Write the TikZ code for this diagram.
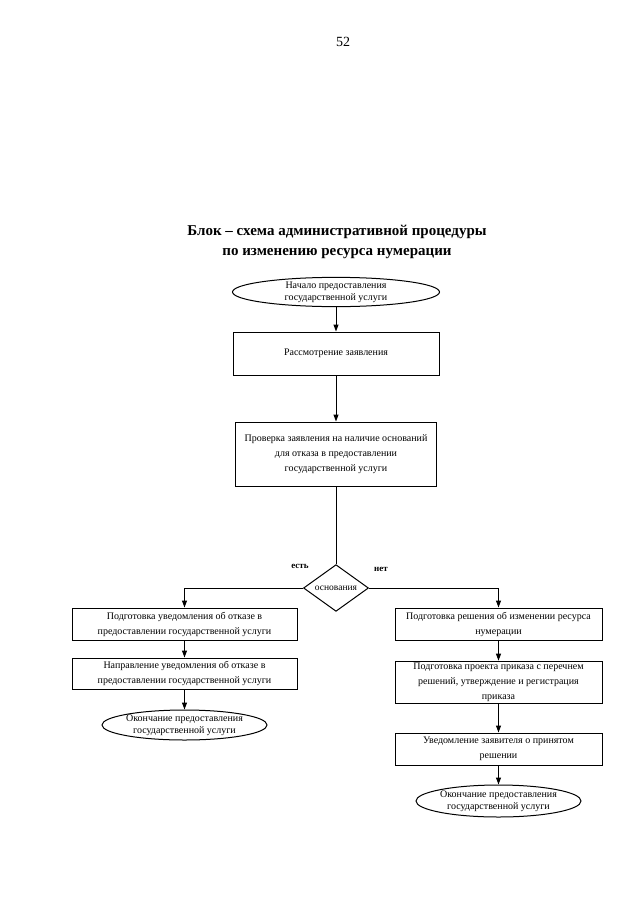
\documentclass[tikz,border=0pt]{standalone}
\usepackage{fontspec}
\setmainfont{Liberation Serif}
\usetikzlibrary{arrows.meta,shapes.geometric}
\tikzset{
  box/.style={draw, line width=1pt, rectangle, inner sep=2pt, align=center, font=\fontsize{10}{15}\selectfont},
  oval/.style={draw, line width=1pt, ellipse, inner sep=0pt, align=center, font=\fontsize{10}{12}\selectfont},
  decide/.style={draw, line width=1pt, diamond, inner sep=0pt, minimum width=65pt, minimum height=42pt, font=\fontsize{9.5}{11}\selectfont},
  lbl/.style={inner sep=0pt, font=\bfseries\fontsize{9}{10}\selectfont},
  arr/.style={line width=1pt, -{Triangle[length=7pt,width=5pt]}},
  ln/.style={line width=1pt}
}
\begin{document}
\begin{tikzpicture}[x=1pt,y=-1pt]
\useasboundingbox (0,0) rectangle (640,905);
\node[inner sep=0pt, font=\fontsize{14}{16}\selectfont] (page) at (343,42) {52};
\node[inner sep=0pt, align=center, font=\bfseries\fontsize{15}{20}\selectfont] (title) at (337,242) {Блок – схема административной процедуры\\по изменению ресурса нумерации};
\node[oval, minimum width=207pt, minimum height=26pt] (start) at (336,292) {Начало предоставления\\государственной услуги};
\node[box, minimum width=206pt, minimum height=43pt] (r1) at (336,353.5) {Рассмотрение заявления};
\node[box, minimum width=201pt, minimum height=64pt] (r2) at (336,454) {Проверка заявления на наличие оснований\\для отказа в предоставлении\\государственной услуги};
\node[decide] (d) at (336,588) {основания};
\node[lbl] (yes) at (300,566) {есть};
\node[lbl] (no) at (381,569) {нет};
\node[box, minimum width=225pt, minimum height=32pt] (l1) at (184.5,624) {Подготовка уведомления об отказе в\\предоставлении государственной услуги};
\node[box, minimum width=225pt, minimum height=31pt] (l2) at (184.5,673.5) {Направление уведомления об отказе в\\предоставлении государственной услуги};
\node[oval, minimum width=124pt, minimum height=30pt] (le) at (184.5,725) {Окончание предоставления\\государственной услуги};
\node[box, minimum width=207pt, minimum height=32pt] (q1) at (498.5,624) {Подготовка решения об изменении ресурса\\нумерации};
\node[box, minimum width=207pt, minimum height=41pt] (q2) at (498.5,682.5) {Подготовка проекта приказа с перечнем\\решений, утверждение и регистрация\\приказа};
\node[box, minimum width=207pt, minimum height=32pt] (q3) at (498.5,749) {Уведомление заявителя о принятом\\решении};
\node[oval, minimum width=132pt, minimum height=32pt] (re) at (498.5,801) {Окончание предоставления\\государственной услуги};
\draw[arr] (start) -- (r1);
\draw[arr] (r1) -- (r2);
\draw[ln] (r2) -- (d);
\draw[arr] (d.west) -| (l1.north);
\draw[arr] (d.east) -| (q1.north);
\draw[arr] (l1) -- (l2);
\draw[arr] (l2) -- (le);
\draw[arr] (q1) -- (q2);
\draw[arr] (q2) -- (q3);
\draw[arr] (q3) -- (re);
\end{tikzpicture}
\end{document}
